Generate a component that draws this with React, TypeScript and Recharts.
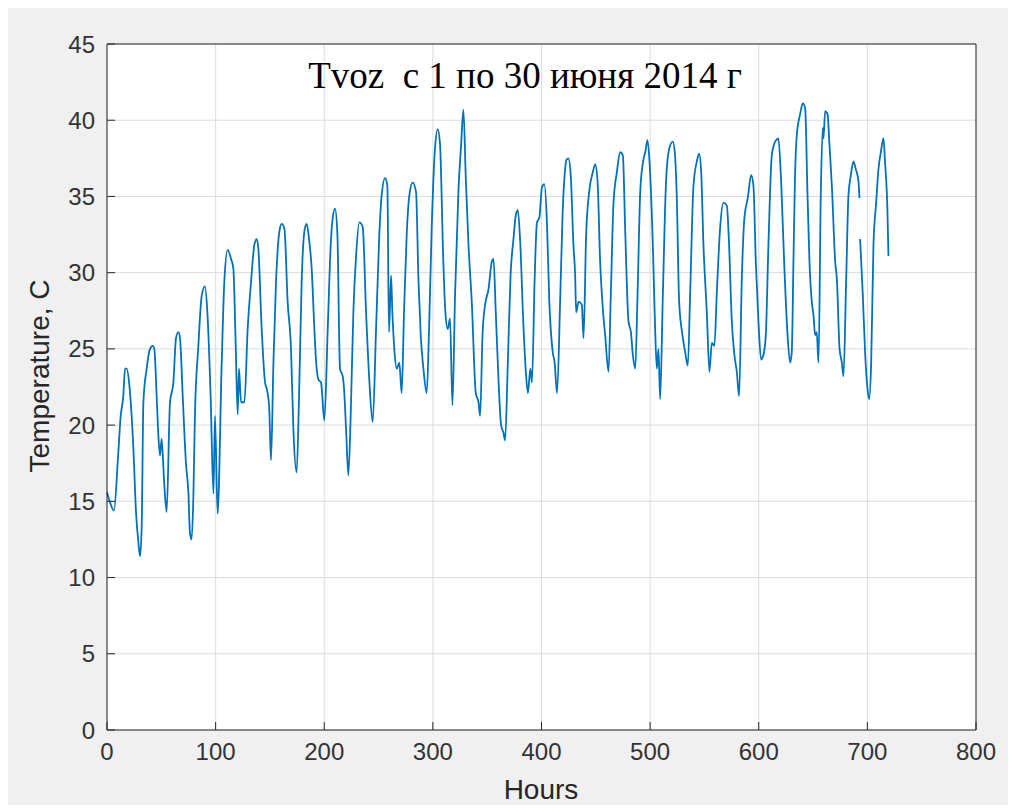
import React from 'react';
import { LineChart, Line, XAxis, YAxis, CartesianGrid } from 'recharts';

// hourly air temperature, June 2014 (at the turning points)
const hours = [
  0, 2.5, 6.4, 10.4, 12.6, 15.0, 16.6, 18.1, 20.6, 24.2, 26.7, 28.9, 30.4, 31.9, 33.5, 36.5, 39.6, 42.0, 43.6,
  45.7, 47.3, 48.8, 50.3, 52.5, 54.9, 58.0, 61.1, 63.5, 65.7, 67.2, 69.7, 72.7, 74.9, 76.4, 77.9, 79.5, 81.0,
  84.1, 87.2, 90.2, 92.4, 95.4, 98.0, 99.4, 101.8,
  105.6, 108.0, 111.1, 114.2, 116.3, 118.5, 120.3, 121.5, 123.4, 126.5, 129.5, 132.6, 135.6, 137.8, 139.3,
  142.4, 145.5, 147.0, 149.2, 151.0, 153.2, 155.6, 158.7, 160.8, 163.3, 166.3, 169.4, 171.6, 174.6, 176.8,
  179.2, 181.7, 183.8, 186.0, 188.4, 190.9, 192.1, 194.6, 197.0, 200.1, 203.2, 206.0, 207.8, 209.9, 212.1, 214.5,
  217.0, 218.2, 220.1, 222.2, 224.4, 226.8, 229.3, 232.3, 235.4, 238.5, 241.6, 244.6, 247.7, 250.7, 252.9,
  256.0, 258.1, 259.6, 261.5, 262.7, 264.5, 266.7, 269.1, 271.3, 273.5, 275.9, 278.4, 281.4, 284.5, 286.7,
  288.8, 291.3, 294.3, 296.5, 298.9, 302.0, 304.5, 306.6, 309.5, 311.5,
  313.7, 315.8, 318.0, 320.4, 323.5, 326.0, 328.1, 330.3, 332.8, 335.8, 339.5, 342.0, 343.5, 345.7, 348.1,
  351.2, 354.2, 355.8, 357.9, 360.4, 362.8, 365.0, 366.5, 369.0, 371.5, 374.2, 376.4, 378.2, 380.4, 383.5,
  385.6, 387.5, 389.7, 391.2, 393.7, 395.8, 398.0, 400.4, 402.6, 405.0, 407.2, 410.3, 412.1, 414.3, 417.3, 419.5,
  421.5, 423.0, 424.8, 426.9, 429.4, 431.0, 431.9, 434.1, 437.1, 438.7, 441.1, 444.2, 447.3, 449.4, 451.6,
  454.0, 456.5, 458.6, 461.7, 463.8, 466.3, 469.4, 472.4, 474.9, 477.0, 480.1, 482.3, 484.1, 486.3, 488.4,
  490.9, 493.3, 495.5, 497.6, 499.5, 502.5, 504.6, 506.2, 507.7, 509.2, 511.7, 514.8, 517.8, 520.9, 522.8,
  524.5, 526.7, 529.8, 532.2, 534.7, 536.8, 539.9, 543.0, 545.1, 547.0, 549.1, 552.2, 554.6, 556.8, 559.2,
  561.4, 564.4, 567.5, 570.6, 572.7, 575.2, 577.6, 579.8, 581.9, 584.4, 586.8, 589.9, 593.0, 595.1, 597.3,
  599.7, 602.2, 604.3, 606.5, 608.9, 612.0, 615.1, 618.1, 620.6, 623.6, 626.7, 628.9, 630.4, 632.0, 633.3,
  635.0, 638.1, 640.6, 642.7, 644.9, 646.7, 648.8, 650.4, 651.9, 653.4, 655.0, 657.1, 658.9, 659.6, 661.1,
  663.3, 665.1, 667.3, 670.4, 671.9, 674.4, 676.5, 678.0, 680.5, 682.6, 684.8, 687.2, 689.3, 691.8, 692.7,
  693.0, 693.3, 695.8, 698.0, 700.1, 701.6, 703.5, 705.6, 708.1, 710.2, 712.4, 714.8, 716.3, 718.5, 719.4,
];

const temps = [
  15.6, 15.0, 14.4, 18.2, 20.6, 21.9, 23.7, 23.7, 22.6, 18.6, 14.3, 12.3, 11.4, 13.2, 21.5, 23.7, 25.0, 25.2, 25.0,
  21.9, 19.3, 18.0, 19.1, 16.4, 14.3, 21.5, 22.8, 25.7, 26.1, 25.7, 21.9, 17.5, 15.6, 12.9, 12.5, 15.3, 20.8,
  25.2, 28.5, 29.1, 27.4, 21.9, 15.5, 20.6, 14.2,
  24.1, 29.4, 31.5, 30.9, 30.3, 25.2, 20.7, 23.7, 21.5, 21.5, 26.3, 29.4, 31.8, 32.2, 31.6,
  26.3, 22.8, 22.4, 21.3, 17.7, 24.1, 29.4, 32.7, 33.2, 32.9, 28.1, 25.0, 19.7, 16.9, 21.9,
  29.4, 32.7, 33.2, 32.2, 30.3, 26.3, 24.6, 23.0, 22.8, 20.3, 26.3, 31.9, 33.6, 34.2, 32.5, 23.7,
  23.2, 22.4, 19.7, 16.7, 20.8, 27.4, 31.1, 33.3, 33.0, 27.4, 22.8, 20.2, 26.3, 32.5, 35.1,
  36.2, 35.7, 26.1, 29.8, 27.4, 25.0, 23.7, 24.1, 22.1, 27.6, 32.5, 35.1, 35.9, 35.3, 29.6,
  25.9, 23.7, 22.1, 26.3, 32.9, 38.2, 39.4, 38.4, 31.0, 27.4,
  26.3, 27.0, 21.3, 28.5, 35.3, 38.4, 40.7, 36.2, 31.8, 28.1, 22.1, 21.5, 20.6, 25.9, 27.9,
  28.9, 30.7, 30.9, 27.4, 23.0, 20.0, 19.5, 19.0, 24.1, 29.8, 32.2, 33.8, 34.1, 32.0, 26.3,
  23.5, 22.1, 23.7, 22.8, 29.6, 33.3, 33.6, 35.6, 35.8, 33.3, 28.1, 24.8, 24.1, 22.1, 28.5, 34.0,
  36.6, 37.4, 37.5, 36.4, 31.8, 29.8, 27.4, 28.1, 27.9, 25.7, 32.5, 35.5, 36.6, 37.1, 36.0,
  30.7, 27.6, 25.9, 23.5, 28.5, 34.6, 36.6, 37.9, 37.7, 32.9, 26.8, 26.1, 24.6, 23.7, 28.5,
  35.3, 37.2, 37.9, 38.7, 37.2, 31.8, 26.3, 23.7, 25.0, 21.7, 28.5, 36.2, 38.2, 38.6, 37.8,
  35.1, 28.1, 25.9, 24.8, 23.9, 28.5, 35.7, 37.3, 37.8, 36.6, 31.8, 27.4, 23.5, 25.4, 25.2,
  28.7, 32.9, 34.6, 34.4, 31.8, 26.8, 24.6, 23.5, 21.9, 29.6, 33.6, 34.9, 36.4, 35.7, 30.7,
  26.8, 24.3, 24.6, 25.9, 31.8, 37.7, 38.6, 38.8, 36.0, 30.3, 25.7, 24.1, 24.8, 31.0, 36.0,
  39.0, 40.4, 41.1, 40.8, 35.1, 30.7, 28.1, 27.2, 25.9, 26.1, 24.1, 35.1, 39.5, 38.8, 40.6,
  40.4, 38.4, 35.7, 30.7, 29.6, 25.0, 24.1, 23.2, 29.6, 35.1, 36.4, 37.3, 36.8, 36.0, 34.9,
  null, 32.2, 28.5, 24.6, 22.4, 21.7, 24.1, 31.8, 34.6, 36.8, 37.9, 38.8, 37.2, 34.0, 31.1,
];

const xTicks = [0, 100, 200, 300, 400, 500, 600, 700, 800];
const yTicks = [0, 5, 10, 15, 20, 25, 30, 35, 40, 45];

const data = hours.map((h, i) => ({ h, t: temps[i] }));

const axisColor = '#262626';
const tickFont = { fontSize: 24, fill: '#333', fontFamily: '"Liberation Sans", Arial, sans-serif' };

const App = () => {
  return (
    <div style={{ position: 'relative', width: 1002, height: 797, background: '#f0f0f0' }}>
      <LineChart width={1002} height={797} data={data} margin={{ top: 35, right: 33, bottom: 15, left: 39 }}>
        <CartesianGrid stroke="#dcdcdc" strokeWidth={1} fill="#ffffff" fillOpacity={1} />
        <XAxis
          dataKey="h"
          type="number"
          domain={[0, 800]}
          ticks={xTicks}
          height={60}
          tickSize={-8}
          tickMargin={21}
          stroke={axisColor}
          tick={tickFont}
          interval={0}
        />
        <XAxis
          xAxisId="top"
          orientation="top"
          dataKey="h"
          type="number"
          domain={[0, 800]}
          ticks={xTicks}
          height={1}
          tickSize={-8}
          tick={false}
          stroke={axisColor}
        />
        <YAxis
          type="number"
          domain={[0, 45]}
          ticks={yTicks}
          width={60}
          tickSize={-8}
          tickMargin={20}
          stroke={axisColor}
          tick={tickFont}
          interval={0}
        />
        <YAxis
          yAxisId="right"
          orientation="right"
          type="number"
          domain={[0, 45]}
          ticks={yTicks}
          width={1}
          tickSize={-8}
          tick={false}
          stroke={axisColor}
        />
        <Line
          type="monotone"
          dataKey="t"
          stroke="#0072BD"
          strokeWidth={1.8}
          dot={false}
          activeDot={false}
          connectNulls={false}
          isAnimationActive={false}
        />
      </LineChart>
      <div
        style={{
          position: 'absolute', left: 517, top: 67, transform: 'translate(-50%, -50%)',
          fontFamily: '"Liberation Serif", "Times New Roman", serif', fontSize: 37, color: '#000',
          whiteSpace: 'pre', lineHeight: 1,
        }}
      >
        Tvoz  с 1 по 30 июня 2014 г
      </div>
      <div
        style={{
          position: 'absolute', left: 533, top: 782, transform: 'translate(-50%, -50%)',
          fontFamily: '"Liberation Sans", Arial, sans-serif', fontSize: 28, color: '#262626',
          whiteSpace: 'pre', lineHeight: 1,
        }}
      >
        Hours
      </div>
      <div
        style={{
          position: 'absolute', left: 32, top: 368, transform: 'translate(-50%, -50%) rotate(-90deg)',
          fontFamily: '"Liberation Sans", Arial, sans-serif', fontSize: 28, color: '#262626',
          whiteSpace: 'pre', lineHeight: 1,
        }}
      >
        Temperature, C
      </div>
    </div>
  );
};

export default App;
